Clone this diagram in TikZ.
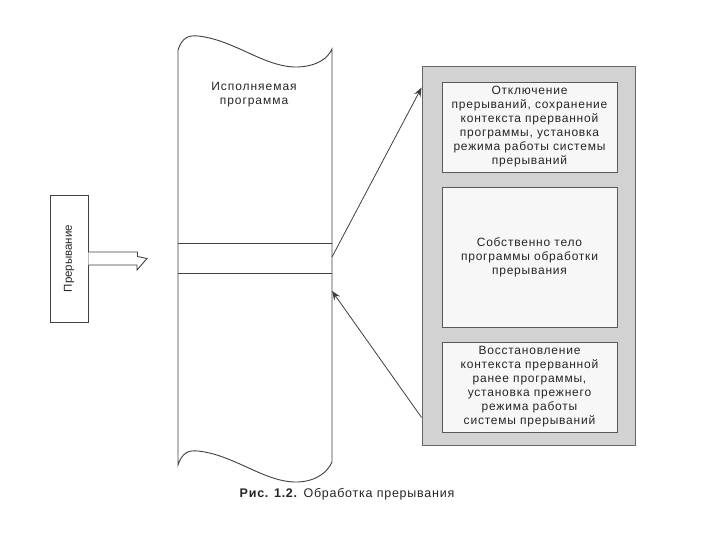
\documentclass[tikz,border=0pt]{standalone}
\usepackage{fontspec}
\setmainfont{Liberation Sans}
\usetikzlibrary{arrows.meta}
\begin{document}
\begin{tikzpicture}[x=1pt,y=-1pt,
  line/.style={draw=black!75, line width=0.9pt},
  txt/.style={font=\fontsize{12}{14}\selectfont\addfontfeature{LetterSpace=6.5}, align=center, text=black!85},
  innerbox/.style={draw=black!65, line width=0.9pt, fill=gray!6, minimum width=175pt, inner sep=0pt, txt},
  conn/.style={draw=black!75, line width=0.8pt, -{Stealth[length=9pt,width=7pt]}}]
\useasboundingbox (0,0) rectangle (720,540);
\fill[white] (0,0) rectangle (720,540);

% executed program (tape)
\draw[line] (178,50) .. controls (182,38) and (188,35) .. (198,36)
  .. controls (235,40) and (265,68) .. (298,67)
  .. controls (318,66) and (328,58) .. (332,49)
  -- (332,462)
  .. controls (328,471) and (318,481) .. (298,482)
  .. controls (265,483) and (235,455) .. (198,451)
  .. controls (188,450) and (182,453) .. (178,465) -- cycle;
\draw[line] (178,243) -- (332,243);
\draw[line] (178,273) -- (332,273);
\node (tape) [txt, font=\fontsize{12}{14}\selectfont\addfontfeature{LetterSpace=8}] at (254,95) {Исполняемая\\программа};
\coordinate (t1) at (332,257);
\coordinate (t2) at (332,291);

% interrupt
\node (irq) [draw=black!75, line width=0.9pt, minimum width=127pt, minimum height=38pt, rotate=90, inner sep=0pt, font=\fontsize{11.5}{14}\selectfont, text=black!85] at (69,258.5) {Прерывание};
\draw[line, fill=white] ([yshift=6.5pt]irq.south) -- ++(49,0) -- ++(0,4.5) -- (147,258.5)
  -- (137,270) -- (137,265) -- ([yshift=-6.5pt]irq.south);

% handler
\node (outer) [draw=black!60, line width=0.9pt, fill=gray!35, minimum width=213pt, minimum height=379pt] at (528.5,255.5) {};
\node (b1) [innerbox, minimum height=90pt] at (529.5,127) {Отключение\\прерываний, сохранение\\контекста прерванной\\программы, установка\\режима работы системы\\прерываний};
\node (b2) [innerbox, minimum height=140pt] at (529.5,257) {Собственно тело\\программы обработки\\прерывания};
\node (b3) [innerbox, minimum height=90pt] at (529.5,387) {Восстановление\\контекста прерванной\\ранее программы,\\установка прежнего\\режима работы\\системы прерываний};

\draw[conn] (t1) -- ([yshift=-22pt]outer.north west);
\draw[conn] ([yshift=28pt]outer.south west) -- (t2);

\node (cap) [font=\fontsize{12.5}{14}\selectfont\addfontfeature{LetterSpace=6}, text=black!85] at (347,494) {\textbf{Рис. 1.2.} Обработка прерывания};
\end{tikzpicture}
\end{document}
